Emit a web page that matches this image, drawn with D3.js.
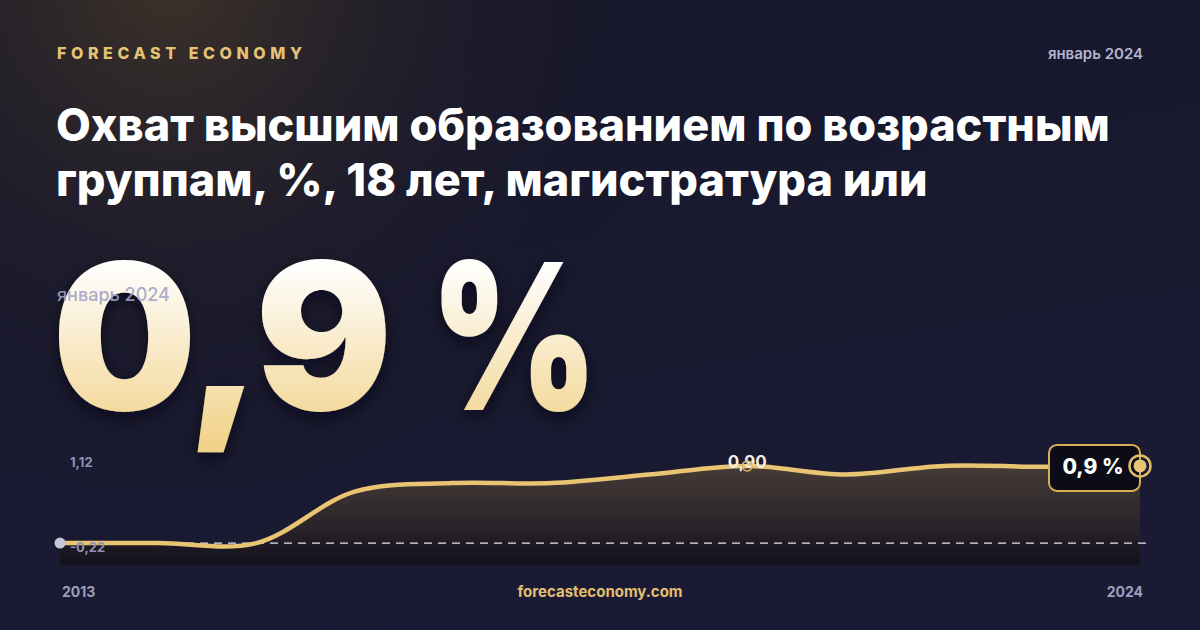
<!DOCTYPE html>
<html>
<head>
<meta charset="utf-8">
<script src="https://cdn.jsdelivr.net/npm/d3@7"></script>
<style>
  html, body { margin: 0; padding: 0; background: #16162b; }
  svg { display: block; }
</style>
</head>
<body>
<script>
// DATA
var years = [2013, 2014, 2015, 2016, 2017, 2018, 2019, 2020, 2021, 2022, 2023, 2024];
var values = [0, 0, 0, 0.60, 0.70, 0.70, 0.80, 0.90, 0.80, 0.90, 0.89, 0.90];
var yDomain = [-0.22, 1.12];
var yTickLabels = ["1,12", "-0,22"];
var xTickLabels = ["2013", "2024"];
var titleLines = ["Охват высшим образованием по возрастным", "группам, %, 18 лет, магистратура или"];
var periodLabel = "январь 2024";
var bigNumber = "0,9";
var bigUnit = "%";
var peakLabel = "0,90";
var badgeLabel = "0,9 %";

var W = 1200, H = 630;
var FONT = "Inter, 'Noto Sans', sans-serif";

window.onload = function () { Draw() };

function Draw() {
	var svg = d3.select("body").append("svg")
		.attr("width", W)
		.attr("height", H);

	var defs = svg.append("defs");

	//BACKGROUND GRADIENTS
	var bg = defs.append("linearGradient").attr("id", "bg")
		.attr("x1", 0).attr("y1", 0).attr("x2", 0.3).attr("y2", 1);
	bg.append("stop").attr("offset", "0%").attr("stop-color", "#17172a");
	bg.append("stop").attr("offset", "100%").attr("stop-color", "#1a1a34");

	var glow = defs.append("radialGradient").attr("id", "glow")
		.attr("gradientUnits", "userSpaceOnUse")
		.attr("cx", 170).attr("cy", -20).attr("r", 520);
	glow.append("stop").attr("offset", "0%").attr("stop-color", "#3f3428").attr("stop-opacity", 0.95);
	glow.append("stop").attr("offset", "40%").attr("stop-color", "#2e2828").attr("stop-opacity", 0.55);
	glow.append("stop").attr("offset", "100%").attr("stop-color", "#17172a").attr("stop-opacity", 0);

	var big = defs.append("linearGradient").attr("id", "bigFill")
		.attr("gradientUnits", "userSpaceOnUse")
		.attr("x1", 0).attr("y1", 262).attr("x2", 0).attr("y2", 440);
	big.append("stop").attr("offset", "0%").attr("stop-color", "#ffffff");
	big.append("stop").attr("offset", "100%").attr("stop-color", "#f2d38c");

	var shadow = defs.append("filter").attr("id", "shadow")
		.attr("x", "-10%").attr("y", "-10%").attr("width", "120%").attr("height", "130%");
	shadow.append("feDropShadow").attr("dx", 0).attr("dy", 6).attr("stdDeviation", 8)
		.attr("flood-color", "#05050c").attr("flood-opacity", 0.6);

	var areaGrad = defs.append("linearGradient").attr("id", "areaFill")
		.attr("gradientUnits", "userSpaceOnUse")
		.attr("x1", 0).attr("y1", 450).attr("x2", 0).attr("y2", 565);
	areaGrad.append("stop").attr("offset", "0%").attr("stop-color", "#4d4238");
	areaGrad.append("stop").attr("offset", "70%").attr("stop-color", "#27222a");
	areaGrad.append("stop").attr("offset", "100%").attr("stop-color", "#121019");

	svg.append("rect").attr("width", W).attr("height", H).attr("fill", "url(#bg)");
	svg.append("rect").attr("width", W).attr("height", H).attr("fill", "url(#glow)");

	//HEADER
	svg.append("text")
		.attr("x", 57).attr("y", 59)
		.attr("textLength", 245).attr("lengthAdjust", "spacing")
		.style("font-family", FONT).style("font-weight", 800).style("font-size", "16px")
		.style("fill", "#e6c274")
		.text("FORECAST ECONOMY");

	svg.append("text")
		.attr("x", 1143).attr("y", 59)
		.attr("text-anchor", "end")
		.style("font-family", FONT).style("font-weight", 600).style("font-size", "15px")
		.style("fill", "#b3b5cf")
		.text(periodLabel);

	//TITLE
	svg.append("g").selectAll("text")
		.data(titleLines)
		.enter().append("text")
		.attr("x", 56)
		.attr("y", function (d, i) { return 141 + i * 55 })
		.style("font-family", FONT).style("font-weight", 800).style("font-size", "45px")
		.style("fill", "#ffffff")
		.text(function (d) { return d });

	//BIG NUMBER
	var bigText = svg.append("text")
		.attr("y", 410)
		.style("font-family", FONT).style("font-weight", 900).style("font-size", "204px")
		.style("fill", "url(#bigFill)")
		.attr("filter", "url(#shadow)");
	bigText.append("tspan")
		.attr("x", 52)
		.style("letter-spacing", "-4px")
		.text(bigNumber + " ");
	bigText.append("tspan")
		.attr("x", 430)
		.attr("textLength", 168).attr("lengthAdjust", "spacingAndGlyphs")
		.text(bigUnit);

	svg.append("text")
		.attr("x", 57).attr("y", 301)
		.style("font-family", FONT).style("font-weight", 500).style("font-size", "18px")
		.style("fill", "#a0a3c6").style("fill-opacity", 0.9)
		.text(periodLabel);

	//CHART
	var x = d3.scaleLinear().domain([years[0], years[years.length - 1]]).range([60, 1140]);
	var y = d3.scaleLinear().domain(yDomain).range([562, 447]);
	var base = 565;

	var pts = years.map(function (d, i) { return { year: d, value: values[i] } });

	var area = d3.area()
		.x(function (d) { return x(d.year) })
		.y0(base)
		.y1(function (d) { return y(d.value) })
		.curve(d3.curveCatmullRom);

	var line = d3.line()
		.x(function (d) { return x(d.year) })
		.y(function (d) { return y(d.value) })
		.curve(d3.curveCatmullRom);

	var chart = svg.append("g");

	chart.append("path").datum(pts)
		.attr("d", area)
		.attr("fill", "url(#areaFill)");

	chart.append("line")
		.attr("x1", x.range()[0]).attr("x2", x.range()[1] + 6)
		.attr("y1", y(0)).attr("y2", y(0))
		.style("stroke", "#e8e6f0").style("stroke-width", 1.2)
		.style("stroke-dasharray", "8,6");

	chart.append("path").datum(pts)
		.attr("d", line)
		.attr("fill", "none")
		.style("stroke", "#e9c473").style("stroke-width", 4.5)
		.style("stroke-linejoin", "round");

	//Y LABELS (DOMAIN ENDS)
	chart.append("g").selectAll("text")
		.data(yTickLabels)
		.enter().append("text")
		.attr("x", 70)
		.attr("y", function (d, i) { return i === 0 ? 467 : 552 })
		.style("font-family", FONT).style("font-weight", 700).style("font-size", "13px")
		.style("fill", "#8f91b3")
		.text(function (d) { return d });

	//START DOT
	chart.append("circle")
		.attr("cx", x(years[0])).attr("cy", y(values[0]))
		.attr("r", 5.5)
		.style("fill", "#c5c7dd");

	//PEAK
	var peakIdx = d3.maxIndex(values);
	chart.append("text")
		.attr("x", x(years[peakIdx])).attr("y", y(values[peakIdx]) + 2)
		.attr("text-anchor", "middle")
		.style("font-family", FONT).style("font-weight", 700).style("font-size", "17px")
		.style("fill", "#f2ece0")
		.text(peakLabel);
	chart.append("circle")
		.attr("cx", x(years[peakIdx])).attr("cy", y(values[peakIdx]))
		.attr("r", 5)
		.style("fill", "none").style("stroke", "#d9b25d").style("stroke-width", 1.5);

	//END BADGE
	var last = values.length - 1;
	var ex = x(years[last]), ey = y(values[last]);
	chart.append("rect")
		.attr("x", ex - 91).attr("y", ey - 21)
		.attr("width", 91).attr("height", 46)
		.attr("rx", 8)
		.style("fill", "#0c0c18").style("stroke", "#d6ac55").style("stroke-width", 2);
	chart.append("text")
		.attr("x", ex - 47).attr("y", ey + 8)
		.attr("text-anchor", "middle")
		.style("font-family", FONT).style("font-weight", 800).style("font-size", "21px")
		.style("fill", "#ffffff")
		.text(badgeLabel);
	chart.append("circle")
		.attr("cx", ex).attr("cy", ey).attr("r", 10.5)
		.style("fill", "none").style("stroke", "#e0bb66").style("stroke-width", 2.5);
	chart.append("circle")
		.attr("cx", ex).attr("cy", ey).attr("r", 6.5)
		.style("fill", "#e6c577");

	//X LABELS
	chart.append("g").selectAll("text")
		.data(xTickLabels)
		.enter().append("text")
		.attr("x", function (d, i) { return i === 0 ? 62 : 1143 })
		.attr("y", 597)
		.attr("text-anchor", function (d, i) { return i === 0 ? "start" : "end" })
		.style("font-family", FONT).style("font-weight", 700).style("font-size", "14px")
		.style("fill", "#9c9ebe")
		.text(function (d) { return d });

	//FOOTER
	svg.append("text")
		.attr("x", 600).attr("y", 597)
		.attr("text-anchor", "middle")
		.style("font-family", FONT).style("font-weight", 700).style("font-size", "15px")
		.style("fill", "#e3bf70")
		.text("forecasteconomy.com");
}
</script>
</body>
</html>
